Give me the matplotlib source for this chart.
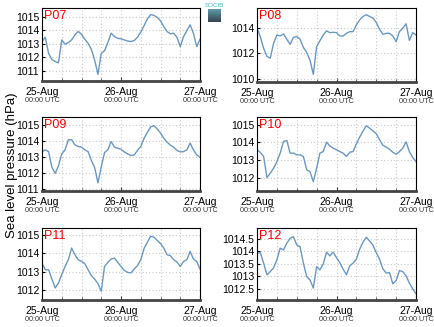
import matplotlib
matplotlib.use('Agg')
import matplotlib.pyplot as plt
import matplotlib.dates as mdates
import matplotlib.ticker as mticker
import numpy as np
import pandas as pd

plt.rcParams['font.family'] = ['Liberation Sans', 'DejaVu Sans']

# hourly samples, 25-Aug 00:00 -> 27-Aug 00:00 UTC
times = pd.date_range('2014-08-25 00:00', periods=49, freq='h')

stations = ['P07', 'P08', 'P09', 'P10', 'P11', 'P12']

p07 = [1013.18, 1013.5, 1012.3, 1011.85, 1011.7, 1011.6, 1013.3, 1012.98, 1013.1, 1013.3,
       1013.68, 1013.93, 1013.72, 1013.35, 1013.05, 1012.6, 1011.8, 1010.75, 1012.3, 1012.5,
       1013.1, 1013.8, 1013.55, 1013.42, 1013.38, 1013.3, 1013.22, 1013.18, 1013.25, 1013.5,
       1013.88, 1014.35, 1014.85, 1015.18, 1015.12, 1014.98, 1014.72, 1014.3, 1013.92, 1013.75,
       1013.8, 1013.5, 1012.8, 1013.55, 1013.98, 1014.42, 1013.8, 1012.8, 1013.35]
p08 = [1013.95, 1013.29, 1012.37, 1011.75, 1011.6, 1012.76, 1013.42, 1013.34, 1013.5, 1013.08,
       1012.68, 1013.24, 1013.29, 1013.1, 1012.45, 1012.05, 1011.45, 1010.34, 1012.5, 1012.97,
       1013.42, 1013.74, 1013.6, 1013.63, 1013.6, 1013.34, 1013.34, 1013.55, 1013.68, 1013.68,
       1014.21, 1014.6, 1014.87, 1015.0, 1014.87, 1014.74, 1014.4, 1013.87, 1013.47, 1013.55,
       1013.55, 1013.34, 1012.9, 1013.68, 1013.95, 1014.29, 1013.0, 1013.6, 1013.42]
p09 = [1013.36, 1013.47, 1013.36, 1012.38, 1012.0, 1012.46, 1013.22, 1013.47, 1014.1, 1014.1,
       1013.78, 1013.68, 1013.64, 1013.47, 1013.36, 1012.8, 1012.36, 1011.4, 1012.4, 1013.3,
       1013.47, 1013.99, 1013.64, 1013.57, 1013.51, 1013.34, 1013.22, 1013.11, 1013.15, 1013.43,
       1013.68, 1014.18, 1014.56, 1014.9, 1014.98, 1014.77, 1014.52, 1014.2, 1013.95, 1013.76,
       1013.64, 1013.43, 1013.34, 1013.36, 1013.47, 1013.89, 1013.47, 1013.15, 1013.0]
p10 = [1013.58, 1013.43, 1013.2, 1012.0, 1012.25, 1012.53, 1012.91, 1013.39, 1014.05, 1014.11,
       1013.39, 1013.39, 1013.29, 1013.29, 1013.2, 1012.44, 1012.34, 1011.77, 1012.53, 1013.39,
       1013.48, 1014.01, 1013.8, 1013.67, 1013.58, 1013.48, 1013.39, 1013.2, 1013.44, 1013.48,
       1013.92, 1014.3, 1014.64, 1014.94, 1014.81, 1014.66, 1014.49, 1014.15, 1013.84, 1013.73,
       1013.61, 1013.44, 1013.33, 1013.48, 1013.67, 1014.03, 1013.48, 1013.14, 1012.91]
p11 = [1013.47, 1013.11, 1013.11, 1012.61, 1012.13, 1012.4, 1012.85, 1013.29, 1013.65, 1014.28,
       1013.92, 1013.65, 1013.56, 1013.44, 1013.11, 1012.79, 1012.61, 1012.36, 1011.95, 1013.29,
       1013.51, 1013.69, 1013.74, 1013.51, 1013.29, 1013.08, 1012.97, 1012.94, 1013.15, 1013.33,
       1013.65, 1014.25, 1014.59, 1014.91, 1014.87, 1014.69, 1014.52, 1014.28, 1013.92, 1013.87,
       1013.65, 1013.53, 1013.29, 1013.56, 1013.65, 1014.1, 1013.69, 1013.56, 1013.15]
p12 = [1013.93, 1013.95, 1013.53, 1013.06, 1013.19, 1013.34, 1013.66, 1014.13, 1014.06, 1014.33,
       1014.53, 1014.59, 1014.26, 1014.19, 1013.53, 1012.99, 1012.86, 1012.53, 1013.39, 1013.26,
       1013.5, 1013.97, 1013.82, 1013.97, 1013.75, 1013.55, 1013.29, 1013.06, 1013.42, 1013.53,
       1013.69, 1014.09, 1014.37, 1014.57, 1014.42, 1014.25, 1013.95, 1013.69, 1013.3, 1013.13,
       1013.15, 1012.7, 1012.83, 1013.23, 1013.19, 1013.02, 1012.73, 1012.5, 1012.3]
series = [p07, p08, p09, p10, p11, p12]

ylims = [(1010.25, 1015.67), (1009.74, 1015.53), (1010.9, 1015.52),
         (1011.24, 1015.44), (1011.48, 1015.36), (1012.05, 1014.94)]
ysteps = [1, 2, 1, 1, 1, 0.5]

W, H = 434, 327
fig = plt.figure(figsize=(W / 100, H / 100), dpi=100)

# axes boxes in pixels: left, top, right, bottom
boxes = [(42, 8, 200, 81), (257, 8, 416, 82),
         (42, 117, 200, 191), (257, 117, 416, 191),
         (42, 228, 200, 300), (257, 228, 416, 300)]

line_color = '#6b98c0'
grid_color = '#c8c8c8'

for name, vals, box, ylim, step in zip(stations, series, boxes, ylims, ysteps):
    l, t, r, b = box
    ax = fig.add_axes([l / W, 1 - b / H, (r - l) / W, (b - t) / H])
    ax.plot(times, vals, color=line_color, lw=1.0)
    ax.set_xlim(times[0], times[-1])
    ax.set_ylim(*ylim)

    ax.xaxis.set_major_locator(mdates.DayLocator())
    ax.xaxis.set_major_formatter(mdates.DateFormatter('%d-%b'))
    ax.xaxis.set_minor_locator(mdates.HourLocator(byhour=[6, 12, 18]))
    ax.yaxis.set_major_locator(mticker.MultipleLocator(step))
    ax.yaxis.set_major_formatter(mticker.FuncFormatter(lambda v, p: '%g' % v))

    ax.grid(True, which='both', axis='x', color=grid_color, ls=(0, (1, 2)), lw=0.8)
    ax.grid(True, which='major', axis='y', color=grid_color, ls=(0, (1, 2)), lw=0.8)

    ax.tick_params(axis='x', which='major', direction='in', length=3, pad=4.5,
                   labelsize=7.5, color='#444444')
    ax.tick_params(axis='x', which='minor', direction='in', length=2, color='#444444')
    ax.tick_params(axis='y', direction='in', length=2, pad=2, labelsize=7.5)

    for side in ['top', 'left', 'right']:
        ax.spines[side].set_linewidth(0.8)
    ax.spines['bottom'].set_linewidth(2.0)
    ax.spines['bottom'].set_color('#444444')

    for d in times[::24]:
        ax.annotate('00:00 UTC', xy=(d, 0), xycoords=('data', 'axes fraction'),
                    xytext=(0, -11.5), textcoords='offset points',
                    ha='center', va='top', fontsize=5.2, color='#333333')

    ax.text(0.015, 0.97, name, transform=ax.transAxes, ha='left', va='top',
            fontsize=9, color='red')

fig.text(12 / W, 1 - 165 / H, 'Sea level pressure (hPa)', rotation=90,
         ha='center', va='center', fontsize=9.5)

# SOCIB logo in the gap between the top panels
fig.text(214.5 / W, 1 - 5.5 / H, 'SOCIB', ha='center', va='center',
         fontsize=4.5, color='#3fb7cf')
lax = fig.add_axes([208 / W, 1 - 22 / H, 13 / W, 13 / H])
grad = np.linspace(0, 1, 32).reshape(-1, 1)
lax.imshow(grad, aspect='auto', cmap=matplotlib.colors.LinearSegmentedColormap.from_list(
    'logo', ['#5f9aa8', '#34454f']))
lax.axis('off')

fig.savefig('out.png', dpi=100)
